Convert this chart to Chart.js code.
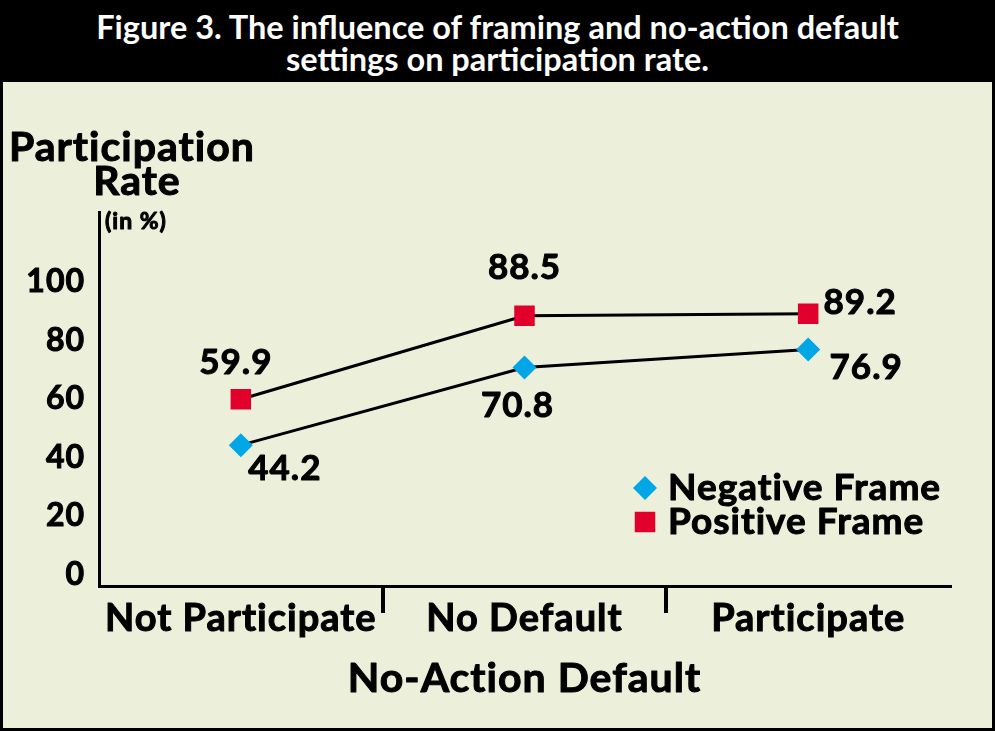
<!DOCTYPE html>
<html>
<head>
<meta charset="utf-8">
<script src="https://cdn.jsdelivr.net/npm/chart.js@4.4.1/dist/chart.umd.min.js"></script>
<style>
    html, body { margin: 0; padding: 0; background: #fff; }
    #frame {
        position: absolute; left: 0; top: 0; width: 995px; height: 731px;
        box-sizing: border-box; border: 3px solid #000; background: #ecf0da;
    }
    #head {
        height: 79px; box-sizing: border-box; padding-top: 8px; background: #000; color: #fff;
        font: bold 32.5px Lato, sans-serif;
        line-height: 32px; text-align: center;
    }
    #chart { position: absolute; left: 0; top: 79px; }
</style>
</head>
<body>
<div id="frame">
    <div id="head">Figure 3. The influence of framing and no-action default<br>settings on participation rate.</div>
    <canvas id="chart" width="989" height="646"></canvas>
</div>
<script>
    'use strict';

    var categories = ['Not Participate', 'No Default', 'Participate'];
    var negativeFrame = [44.2, 70.8, 76.9];
    var positiveFrame = [59.9, 88.5, 89.2];
    var yTicks = [0, 20, 40, 60, 80, 100];
    var xTitle = 'No-Action Default';

    var FONT = 'Lato, "DejaVu Sans", sans-serif';

    function heavyText(ctx, str, x, y) {
        ctx.strokeText(str, x, y);
        ctx.fillText(str, x, y);
    }

    // wider lettering for the whole canvas
    var lettering = {
        id: 'lettering',
        beforeDraw: function (chart) {
            chart.ctx.letterSpacing = '1px';
        }
    };

    // value labels, legend and the axis titles are drawn by hand
    var figureText = {
        id: 'figureText',
        afterDatasetsDraw: function (chart) {
            var ctx = chart.ctx;
            var xs = chart.scales.x;
            ctx.save();
            ctx.fillStyle = '#000';
            ctx.strokeStyle = '#000';
            ctx.lineWidth = 1;
            ctx.lineJoin = 'round';
            ctx.textBaseline = 'middle';

            // y axis title
            ctx.font = 'bold 41px ' + FONT;
            ctx.textAlign = 'left';
            heavyText(ctx, 'Participation', 6, 66);
            ctx.textAlign = 'center';
            heavyText(ctx, 'Rate', 134, 100);
            ctx.font = 'bold 23px ' + FONT;
            ctx.textAlign = 'left';
            heavyText(ctx, '(in %)', 102, 140);

            // x axis title, under the category labels
            ctx.font = 'bold 41px ' + FONT;
            ctx.textAlign = 'center';
            heavyText(ctx, xTitle, (xs.left + xs.right) / 2, xs.top + 93);

            // value labels next to each point
            ctx.font = 'bold 35px ' + FONT;
            chart.data.datasets.forEach(function (ds, i) {
                var meta = chart.getDatasetMeta(i);
                meta.data.forEach(function (pt, j) {
                    var off = ds.labelOffsets[j];
                    heavyText(ctx, ds.data[j].toFixed(1), pt.x + off[0], pt.y + off[1]);
                });
            });

            // legend
            chart.data.datasets.forEach(function (ds, i) {
                var y = 406 + i * 34;
                ctx.fillStyle = ds.pointBackgroundColor;
                Chart.helpers.drawPoint(ctx, {
                    pointStyle: ds.pointStyle,
                    radius: ds.pointRadius,
                    rotation: 0,
                    borderWidth: 0
                }, 642, y);
                ctx.fillStyle = '#000';
                ctx.font = 'bold 37px ' + FONT;
                ctx.textAlign = 'left';
                heavyText(ctx, ds.label, 665, y);
            });
            ctx.restore();
        }
    };

    new Chart(document.getElementById('chart'), {
        type: 'line',
        data: {
            labels: categories,
            datasets: [
                {
                    label: 'Negative Frame',
                    data: negativeFrame,
                    borderColor: '#000',
                    borderWidth: 3,
                    pointStyle: 'rectRot',
                    pointRadius: 12,
                    pointBorderWidth: 0,
                    pointBackgroundColor: '#00a6e6',
                    labelOffsets: [[44, 24], [-7, 38], [58, 18]]
                },
                {
                    label: 'Positive Frame',
                    data: positiveFrame,
                    borderColor: '#000',
                    borderWidth: 3,
                    pointStyle: 'rect',
                    pointRadius: 14.5,
                    pointBorderWidth: 0,
                    pointBackgroundColor: '#e0002b',
                    labelOffsets: [[-5, -37], [0, -48], [52, -11]]
                }
            ]
        },
        options: {
            responsive: false,
            animation: false,
            devicePixelRatio: 1,
            layout: { padding: { top: 130, right: 42, left: 0, bottom: 0 } },
            plugins: {
                legend: { display: false },
                tooltip: { enabled: false },
                title: { display: false }
            },
            scales: {
                x: {
                    type: 'category',
                    offset: true,
                    grid: {
                        offset: true,
                        drawOnChartArea: false,
                        drawTicks: true,
                        tickLength: 27,
                        lineWidth: 4,
                        color: function (c) {
                            // only the two separators between categories
                            return (c.type === 'tick' && c.index > 0) ? '#000' : 'rgba(0,0,0,0)';
                        }
                    },
                    border: { color: '#000', width: 3 },
                    ticks: {
                        color: '#000',
                        textStrokeColor: '#000',
                        textStrokeWidth: 1,
                        font: { family: FONT, weight: 'bold', size: 38 },
                        padding: -17,
                        maxRotation: 0,
                        autoSkip: false
                    },
                    afterFit: function (s) { s.height = 142; }
                },
                y: {
                    min: -4,
                    max: 124,
                    grid: { display: false },
                    border: { color: '#000', width: 3 },
                    ticks: {
                        color: '#000',
                        textStrokeColor: '#000',
                        textStrokeWidth: 1,
                        font: { family: FONT, weight: 'bold', size: 32 },
                        padding: 6
                    },
                    afterBuildTicks: function (s) {
                        s.ticks = yTicks.map(function (v) { return { value: v }; });
                    },
                    afterFit: function (s) { s.width = 96; }
                }
            }
        },
        plugins: [lettering, figureText]
    });
</script>
</body>
</html>
